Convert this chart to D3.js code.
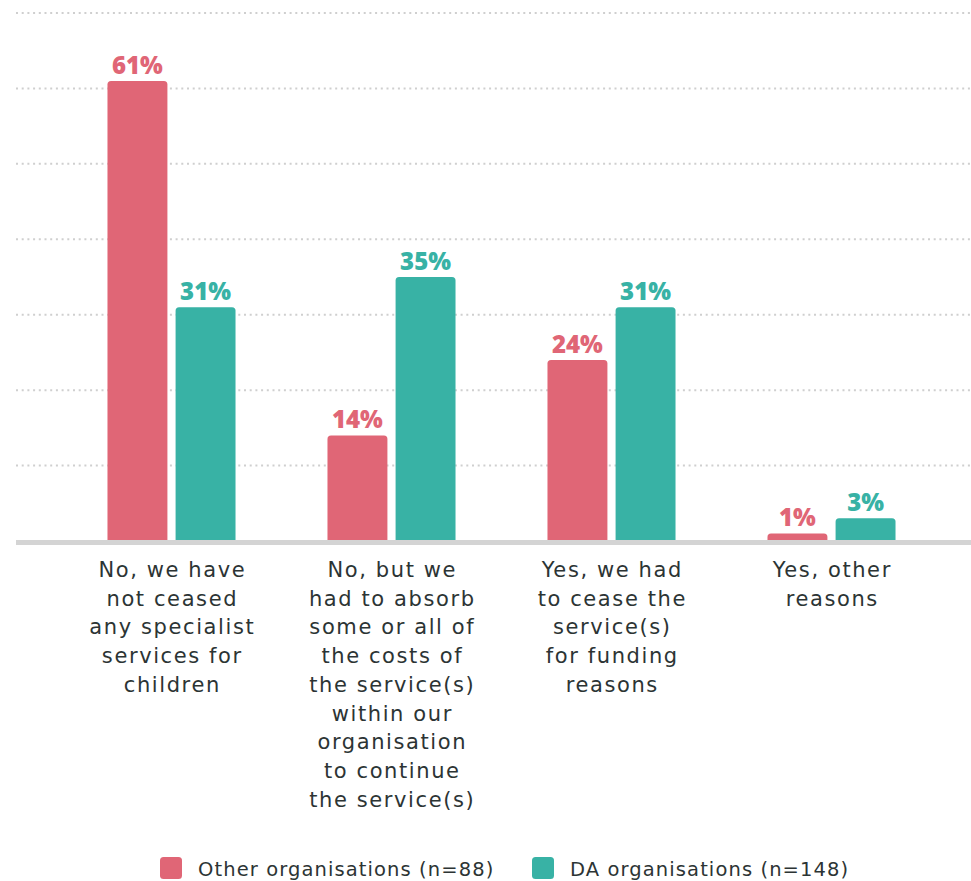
<!DOCTYPE html>
<html>
<head>
<meta charset="utf-8">
<script src="https://cdn.jsdelivr.net/npm/d3@7"></script>
<style>
  html, body { margin: 0; padding: 0; background: #fff; }
  svg { display: block; font-family: "DejaVu Sans", "Open Sans", sans-serif; }
</style>
</head>
<body>
<svg id="chart" width="971" height="881"></svg>
<script>
// Survey answers (category axis), wrapped as printed
const categories = [
  "No, we have not ceased any specialist services for children",
  "No, but we had to absorb some or all of the costs of the service(s) within our organisation to continue the service(s)",
  "Yes, we had to cease the service(s) for funding reasons",
  "Yes, other reasons"
];
const categoryLines = [
  ["No, we have", "not ceased", "any specialist", "services for", "children"],
  ["No, but we", "had to absorb", "some or all of", "the costs of", "the service(s)", "within our", "organisation", "to continue", "the service(s)"],
  ["Yes, we had", "to cease the", "service(s)", "for funding", "reasons"],
  ["Yes, other", "reasons"]
];
const seriesNames = ["Other organisations (n=88)", "DA organisations (n=148)"];
const otherOrgs = [61, 14, 24, 1];
const daOrgs = [31, 35, 31, 3];
const gridTicks = [10, 20, 30, 40, 50, 60, 70];
const colors = ["#e06676", "#38b2a5"];

const series = [otherOrgs, daOrgs];
const svg = d3.select("#chart");

const y = d3.scaleLinear().domain([0, 70]).range([541, 13]);
const x0 = d3.scaleBand().domain(d3.range(categories.length))
  .range([61.5, 941.5]).paddingInner(0.418).paddingOuter(0.209);
const x1 = d3.scaleBand().domain(d3.range(series.length))
  .range([0, x0.bandwidth()]).paddingInner(0.12);

// dotted gridlines
svg.append("g").selectAll("line").data(gridTicks).join("line")
  .attr("x1", 16).attr("x2", 971)
  .attr("y1", d => y(d)).attr("y2", d => y(d))
  .attr("stroke", "#cfcfcf").attr("stroke-width", 2)
  .attr("stroke-dasharray", "2 3.7");

// bars with rounded top corners
function barPath(x, w, top, bottom, r) {
  const rr = Math.min(r, (bottom - top), w / 2);
  return `M${x},${bottom}V${top + rr}Q${x},${top} ${x + rr},${top}H${x + w - rr}Q${x + w},${top} ${x + w},${top + rr}V${bottom}Z`;
}

const groups = svg.append("g").selectAll("g").data(categories).join("g")
  .attr("transform", (d, i) => `translate(${x0(i)},0)`);

groups.each(function (c, i) {
  const g = d3.select(this);
  series.forEach((s, k) => {
    const v = s[i];
    g.append("path")
      .attr("d", barPath(x1(k), x1.bandwidth(), y(v), y(0), 3.5))
      .attr("fill", colors[k]);
    g.append("text")
      .attr("x", x1(k) + x1.bandwidth() / 2)
      .attr("y", y(v) - 7)
      .attr("text-anchor", "middle")
      .attr("font-family", "'Open Sans', sans-serif")
      .attr("font-size", 24).attr("font-weight", 800)
      .attr("fill", colors[k])
      .text(v + "%");
  });
});

// baseline
svg.append("line")
  .attr("x1", 16).attr("x2", 971)
  .attr("y1", y(0) + 1.5).attr("y2", y(0) + 1.5)
  .attr("stroke", "#d4d4d4").attr("stroke-width", 5);

// category labels
groups.append("text")
  .attr("text-anchor", "middle")
  .attr("font-size", 21)
  .attr("letter-spacing", 1.6)
  .attr("fill", "#2c3434")
  .selectAll("tspan").data((c, i) => categoryLines[i]).join("tspan")
  .attr("x", x0.bandwidth() / 2 + 0.8)
  .attr("y", (d, j) => 577 + j * 28.7)
  .text(d => d);

// legend
const legendX = [160, 532];
const legend = svg.append("g").selectAll("g").data(seriesNames).join("g")
  .attr("transform", (d, i) => `translate(${legendX[i]},857)`);
legend.append("rect")
  .attr("width", 22).attr("height", 22).attr("rx", 3.5)
  .attr("fill", (d, i) => colors[i]);
legend.append("text")
  .attr("x", 38).attr("y", 19)
  .attr("font-size", 19.5)
  .attr("letter-spacing", 1.1)
  .attr("fill", "#2c3434")
  .text(d => d);
</script>
</body>
</html>
